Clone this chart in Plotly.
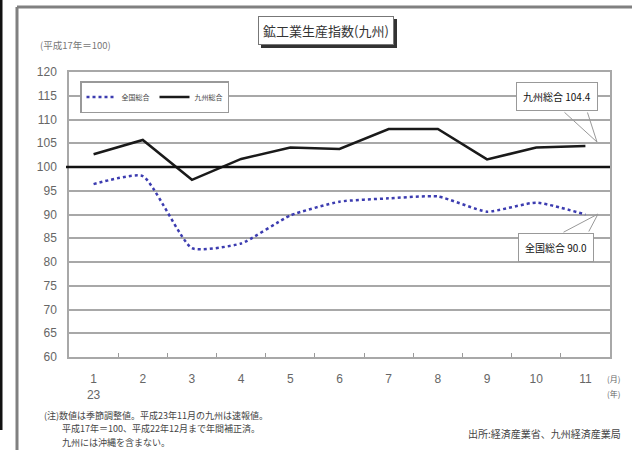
import plotly.graph_objects as go

# ---- data ----
months = ["1", "2", "3", "4", "5", "6", "7", "8", "9", "10", "11"]
month_labels = ["1<br>23", "2", "3", "4", "5", "6", "7", "8", "9", "10", "11"]
kyushu = [102.7, 105.7, 97.3, 101.7, 104.1, 103.8, 108.0, 108.0, 101.6, 104.1, 104.4]
national = [96.4, 98.1, 82.9, 83.9, 89.8, 92.7, 93.4, 93.8, 90.6, 92.5, 90.0]
y_ticks = list(range(60, 121, 5))
BASE = 100

title_text = "鉱工業生産指数(九州)"
sub_text = "(平成17年＝100)"
notes = ["(注)数値は季節調整値。平成23年11月の九州は速報値。",
         "　　平成17年＝100、平成22年12月まで年間補正済。",
         "　　九州には沖縄を含まない。"]
source_text = "出所:経済産業省、九州経済産業局"

# ---- geometry helpers (pixel -> paper) ----
WIDTH, HEIGHT = 632, 450
L, R, T, B = 69, 610, 72, 357
W, H = R - L, B - T


def xp(px):
    return (px - L) / W


def yp(py):
    return (B - py) / H


FONT = "Noto Sans CJK JP"
GRID = "#a8a8a8"

fig = go.Figure()
fig.add_trace(go.Scatter(
    x=months, y=national, name="全国総合", mode="lines",
    line=dict(color="#3c3cb0", width=2.5, dash="dot", shape="spline", smoothing=0.5),
))
fig.add_trace(go.Scatter(
    x=months, y=kyushu, name="九州総合", mode="lines",
    line=dict(color="#1a1a1a", width=2.5),
))


def ann(text, px, py, xanchor="center", size=10, color="#444", **kw):
    d = dict(text=text, x=xp(px), y=yp(py), xref="paper", yref="paper",
             xanchor=xanchor, yanchor="middle", showarrow=False,
             font=dict(family=FONT, size=size, color=color))
    d.update(kw)
    return d


annotations = []
# title box with shadow
annotations.append(ann(title_text, 326, 30.5, size=13, color="#333", bgcolor="#333",
                       bordercolor="#333", borderwidth=1, borderpad=4, xshift=2.5, yshift=-2.5))
annotations.append(ann(title_text, 326, 30.5, size=13, color="#333", bgcolor="white",
                       bordercolor="#777", borderwidth=1, borderpad=4))
annotations.append(ann(sub_text, 38, 45, xanchor="left", size=9.5, color="#777"))

# callout wedges
for tip, bases in (((597, 142), ((563, 111), (587, 111))),
                   ((598, 214), ((562, 233), (588, 233)))):
    for bx, by in bases:
        annotations.append(dict(text="", x=xp(tip[0]), y=yp(tip[1]), xref="paper", yref="paper",
                                showarrow=True, arrowhead=0, arrowwidth=1, arrowcolor="#999",
                                ax=bx - tip[0], ay=by - tip[1], standoff=0, startstandoff=0))

annotations.append(ann(f"九州総合 {kyushu[-1]:.1f}", 557, 96.5, size=10, color="#111",
                       bgcolor="white", bordercolor="#999", borderwidth=1, borderpad=6))
annotations.append(ann(f"全国総合 {national[-1]:.1f}", 555.5, 247.5, size=10, color="#111",
                       bgcolor="white", bordercolor="#999", borderwidth=1, borderpad=6))

# unit labels
annotations.append(ann("(月)", 613, 378, size=8, color="#666"))
annotations.append(ann("(年)", 613, 393, size=8, color="#666"))

# notes
for line, py in zip(notes, (415, 429, 442)):
    annotations.append(ann(line, 42, py, xanchor="left", size=9, color="#444"))
annotations.append(ann(source_text, 623, 433, xanchor="right", size=10, color="#444"))

shapes = [
    dict(type="line", xref="paper", yref="y", x0=xp(66), x1=1, y0=BASE, y1=BASE,
         line=dict(color="#111", width=2.5), layer="above"),
    # outer frame
    dict(type="line", xref="paper", yref="paper", x0=xp(17), x1=xp(17), y0=yp(7), y1=yp(452),
         line=dict(color="#808080", width=3)),
    dict(type="line", xref="paper", yref="paper", x0=xp(17), x1=xp(634), y0=yp(7), y1=yp(7),
         line=dict(color="#808080", width=3)),
    dict(type="line", xref="paper", yref="paper", x0=xp(1), x1=xp(1), y0=yp(-2), y1=yp(430),
         line=dict(color="#111", width=3)),
]

fig.update_layout(
    width=WIDTH, height=HEIGHT,
    margin=dict(l=L, r=WIDTH - R, t=T, b=HEIGHT - B, pad=0),
    paper_bgcolor="white", plot_bgcolor="white",
    font=dict(family=FONT, color="#555"),
    showlegend=True,
    legend=dict(orientation="h", x=xp(80), y=yp(81), xanchor="left", yanchor="top",
                bgcolor="white", bordercolor="#999", borderwidth=1.5,
                font=dict(family=FONT, size=7, color="#444"), itemwidth=30,
                tracegroupgap=0),
    annotations=annotations,
    shapes=shapes,
    xaxis=dict(type="category", tickmode="array", tickvals=months, ticktext=month_labels,
               range=[-0.5, len(months) - 0.5],
               tickson="boundaries", ticks="inside", ticklen=4, tickcolor="#999",
               showgrid=False, showline=True, linecolor=GRID, linewidth=1.5, mirror=True,
               tickfont=dict(family="Liberation Sans", size=12, color="#666"),
               ticklabelstandoff=10, fixedrange=True),
    yaxis=dict(range=[60, 120], tickvals=y_ticks, showgrid=True, gridcolor=GRID, gridwidth=1.5,
               zeroline=False, showline=True, linecolor=GRID, linewidth=1.5, mirror=True,
               ticks="", tickfont=dict(family="Liberation Sans", size=12, color="#666"),
               ticklabelstandoff=8, fixedrange=True),
)

fig.write_html("out.html", config={"displayModeBar": False},
               post_script="document.body.style.margin='0';")
